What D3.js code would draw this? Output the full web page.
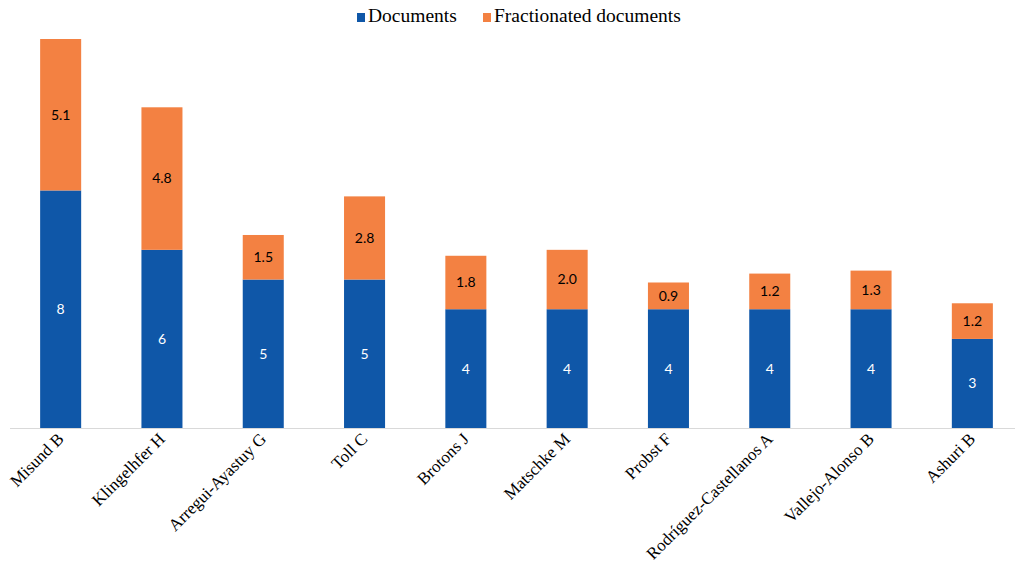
<!DOCTYPE html>
<html>
<head>
<meta charset="utf-8">
<script src="https://cdnjs.cloudflare.com/ajax/libs/d3/7.8.5/d3.min.js"></script>
<style>
  body { margin: 0; background: #fff; }
</style>
</head>
<body>
<div id="chart"></div>
<script>
// Dados
var authors = ["Misund B", "Klingelhfer H", "Arregui-Ayastuy G", "Toll C", "Brotons J",
  "Matschke M", "Probst F", "Rodríguez-Castellanos A", "Vallejo-Alonso B", "Ashuri B"];
var documents = [8, 6, 5, 5, 4, 4, 4, 4, 4, 3];
var fractionated = [5.1, 4.8, 1.5, 2.8, 1.8, 2.0, 0.9, 1.2, 1.3, 1.2];
var seriesNames = ["Documents", "Fractionated documents"];

var w = 1015, h = 563;
var blue = "#0f57a8", orange = "#f38142";

var svg = d3.select("#chart").append("svg")
  .attr("width", w).attr("height", h);

// Escalas
var x = d3.scaleBand()
  .domain(authors)
  .range([10, 1023])
  .paddingInner(0.595)
  .paddingOuter(0.2975);

var y = d3.scaleLinear()
  .domain([0, 13.1])
  .range([428, 39]);

var rows = authors.map(function(a, i) {
  return {author: a, doc: documents[i], frac: fractionated[i]};
});

// Barras azuis
svg.selectAll("rect.doc")
  .data(rows).enter().append("rect")
  .attr("class", "doc")
  .attr("x", function(d) { return x(d.author); })
  .attr("y", function(d) { return y(d.doc); })
  .attr("width", x.bandwidth())
  .attr("height", function(d) { return y(0) - y(d.doc); })
  .attr("fill", blue);

// Barras laranjas
svg.selectAll("rect.frac")
  .data(rows).enter().append("rect")
  .attr("class", "frac")
  .attr("x", function(d) { return x(d.author); })
  .attr("y", function(d) { return y(d.doc + d.frac); })
  .attr("width", x.bandwidth())
  .attr("height", function(d) { return y(d.doc) - y(d.doc + d.frac); })
  .attr("fill", orange);

// Rotulos de valores
svg.selectAll("text.docLabel")
  .data(rows).enter().append("text")
  .attr("x", function(d) { return x(d.author) + x.bandwidth() / 2; })
  .attr("y", function(d) { return (y(0) + y(d.doc)) / 2; })
  .attr("dy", "0.35em")
  .attr("text-anchor", "middle")
  .attr("font-family", "Lato, 'Open Sans', sans-serif")
  .attr("font-size", "14px")
  .attr("fill", "#fff")
  .text(function(d) { return d.doc; });

svg.selectAll("text.fracLabel")
  .data(rows).enter().append("text")
  .attr("x", function(d) { return x(d.author) + x.bandwidth() / 2; })
  .attr("y", function(d) { return (y(d.doc) + y(d.doc + d.frac)) / 2; })
  .attr("dy", "0.35em")
  .attr("text-anchor", "middle")
  .attr("font-family", "Lato, 'Open Sans', sans-serif")
  .attr("font-size", "14px")
  .attr("fill", "#000")
  .text(function(d) { return d.frac.toFixed(1); });

// Eixo x
svg.append("line")
  .attr("x1", 10).attr("x2", 1015)
  .attr("y1", y(0) + 0.5).attr("y2", y(0) + 0.5)
  .attr("stroke", "#d9d9d9").attr("stroke-width", 1);

svg.selectAll("text.cat")
  .data(authors).enter().append("text")
  .attr("transform", function(d) {
    return "translate(" + (x(d) + x.bandwidth() / 2 + 4) + "," + 440 + ") rotate(-45)";
  })
  .attr("text-anchor", "end")
  .attr("font-family", "'Liberation Serif', 'DejaVu Serif', serif")
  .attr("font-size", "17px")
  .attr("fill", "#000")
  .text(function(d) { return d; });

// Legenda
var legend = svg.append("g");
var lx = [357, 483];
seriesNames.forEach(function(s, i) {
  legend.append("rect")
    .attr("x", lx[i]).attr("y", 13)
    .attr("width", 8).attr("height", 9)
    .attr("fill", i === 0 ? blue : orange);
  legend.append("text")
    .attr("x", lx[i] + 11).attr("y", 22)
    .attr("font-family", "'Liberation Serif', 'DejaVu Serif', serif")
    .attr("font-size", "19.5px")
    .attr("fill", "#000")
    .text(s);
});
</script>
</body>
</html>
